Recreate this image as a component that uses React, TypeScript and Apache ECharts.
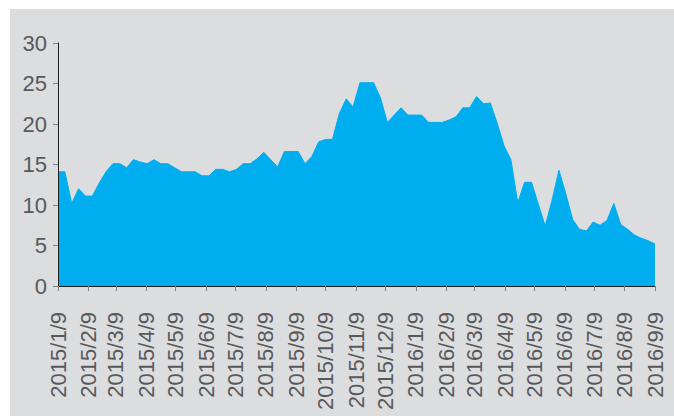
import React, { useEffect, useRef } from 'react';
import * as echarts from 'echarts';

// Weekly observations (every Friday), first one on 2015/1/9
const firstWeek = '2015/1/9';
const weeklyValues = [
  14.1, 14.1, 10.2, 12.0, 11.1, 11.1, 12.7, 14.1, 15.1, 15.1,
  14.6, 15.6, 15.3, 15.1, 15.6, 15.1, 15.1, 14.6, 14.1, 14.1,
  14.1, 13.6, 13.6, 14.4, 14.4, 14.1, 14.4, 15.1, 15.1, 15.7,
  16.5, 15.6, 14.7, 16.6, 16.6, 16.6, 15.1, 16.0, 17.8, 18.1,
  18.1, 21.3, 23.1, 22.1, 25.1, 25.1, 25.1, 23.2, 20.2, 21.1,
  22.0, 21.1, 21.1, 21.1, 20.2, 20.2, 20.2, 20.5, 20.9, 22.0,
  22.0, 23.4, 22.5, 22.6, 20.1, 17.3, 15.6, 10.3, 12.8, 12.8,
  10.1, 7.4, 10.6, 14.3, 11.4, 8.2, 7.0, 6.8, 7.9, 7.5,
  8.1, 10.2, 7.6, 7.0, 6.3, 5.9, 5.6, 5.2,
];

const tickLabels = [
  '2015/1/9', '2015/2/9', '2015/3/9', '2015/4/9', '2015/5/9', '2015/6/9',
  '2015/7/9', '2015/8/9', '2015/9/9', '2015/10/9', '2015/11/9', '2015/12/9',
  '2016/1/9', '2016/2/9', '2016/3/9', '2016/4/9', '2016/5/9', '2016/6/9',
  '2016/7/9', '2016/8/9', '2016/9/9',
];

const yTicks = [0, 5, 10, 15, 20, 25, 30];

function parseDate(s: string): number {
  const [y, m, d] = s.split('/').map(Number);
  return Date.UTC(y, m - 1, d);
}

const DAY = 24 * 3600 * 1000;

export default function App() {
  const ref = useRef<HTMLDivElement>(null);
  useEffect(() => {
    if (!ref.current) return;
    const chart = echarts.init(ref.current, undefined, { renderer: 'svg' });
    const start = parseDate(firstWeek);
    // x = days since first observation
    const data = weeklyValues.map((v, i) => [i * 7, v]);
    const tickDays = tickLabels.map((s) => Math.round((parseDate(s) - start) / DAY));
    const labelMap = new Map<number, string>();
    tickLabels.forEach((s, i) => labelMap.set(tickDays[i], s));
    const font = "'Liberation Sans', Arial, Helvetica, sans-serif";
    chart.setOption({
      animation: false,
      backgroundColor: '#dcdddf',
      grid: { left: 48, top: 34, right: 19, bottom: 130, containLabel: false, outerBoundsMode: 'none' },
      xAxis: {
        type: 'value',
        min: tickDays[0],
        max: tickDays[tickDays.length - 1],
        z: 5,
        axisLine: { show: true, lineStyle: { color: '#231f20', width: 1 } },
        axisTick: { show: true, length: 5, lineStyle: { color: '#808080', width: 1 }, customValues: tickDays },
        axisLabel: {
          customValues: tickDays,
          rotate: 90,
          margin: 26,
          color: '#58595b',
          fontSize: 22,
          fontFamily: font,
          hideOverlap: false,
          showMinLabel: true,
          showMaxLabel: true,
          formatter: (v: number) => labelMap.get(Math.round(v)) ?? '',
        },
        splitLine: { show: false },
      },
      yAxis: {
        type: 'value',
        min: yTicks[0],
        max: yTicks[yTicks.length - 1],
        interval: 5,
        z: 5,
        axisLine: { show: true, lineStyle: { color: '#231f20', width: 1 } },
        axisTick: { show: true, length: 5, lineStyle: { color: '#808080', width: 1 } },
        axisLabel: { margin: 11, color: '#58595b', fontSize: 22, fontFamily: font },
        splitLine: { show: false },
      },
      series: [
        {
          type: 'line',
          data,
          symbol: 'none',
          lineStyle: { width: 1, color: '#00aeef' },
          areaStyle: { color: '#00aeef', opacity: 1 },
          itemStyle: { color: '#00aeef' },
        },
      ],
    });
    return () => chart.dispose();
  }, []);
  return (
    <div style={{ position: 'fixed', left: 0, top: 0, width: 674, height: 416, background: '#ffffff' }}>
      <div ref={ref} style={{ position: 'absolute', left: 10, top: 9, width: 664, height: 407 }} />
    </div>
  );
}
